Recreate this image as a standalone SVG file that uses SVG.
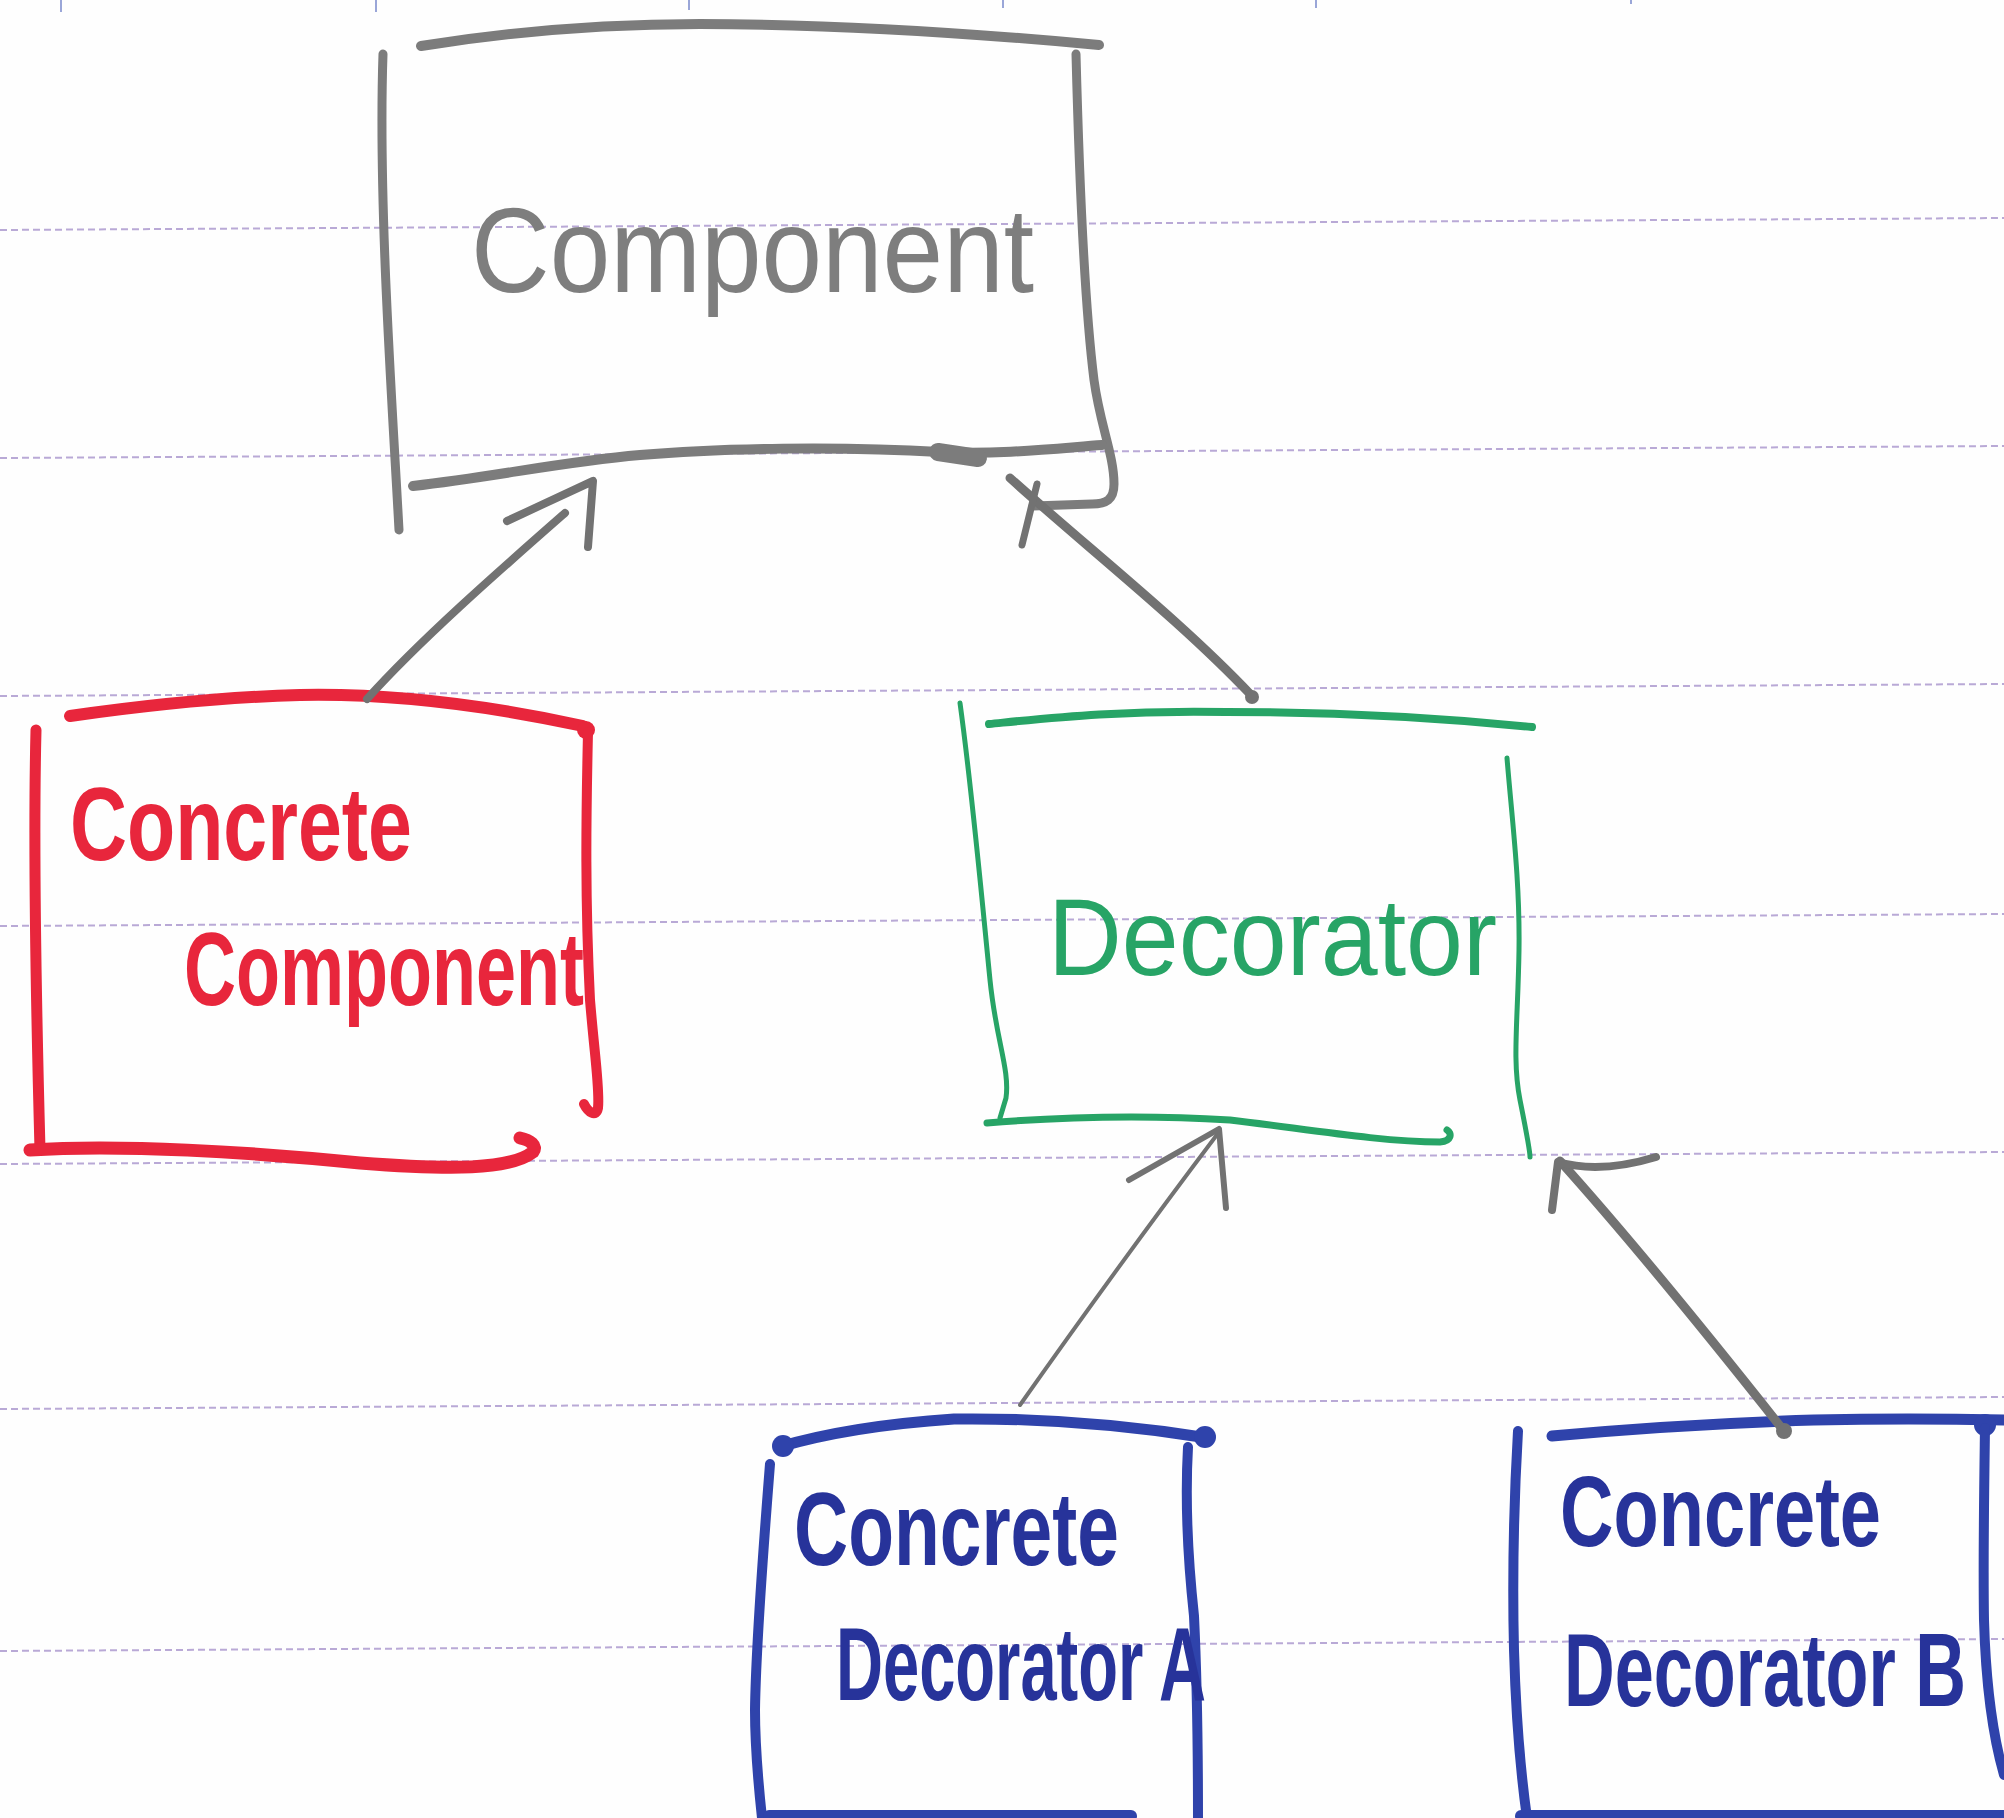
<svg xmlns="http://www.w3.org/2000/svg" width="2004" height="1818" viewBox="0 0 2004 1818">
  <defs>
    <style>
      .rule { stroke: #b9a9d6; stroke-width: 2; stroke-dasharray: 7 4; fill: none; }
      .tick { stroke: #9aa6d8; stroke-width: 2; }
      .ink { fill: none; stroke-linecap: round; stroke-linejoin: round; }
      .gray { stroke: #7c7c7c; }
      .red { stroke: #e8263c; }
      .green { stroke: #27a466; }
      .blue { stroke: #2f43ab; }
      .label { font-family: "Liberation Sans", Arial, sans-serif; }
      .gray-t { fill: #7e7e7e; font-size: 120px; }
      .red-t { fill: #e8263c; font-size: 104px; font-weight: bold; }
      .green-t { fill: #27a466; font-size: 110px; }
      .blue-t { fill: #27339a; font-size: 104px; font-weight: bold; }
      .conn { fill: none; stroke: #727272; stroke-linecap: round; stroke-linejoin: round; }
    </style>
  </defs>

  <!-- paper -->
  <rect x="0" y="0" width="2004" height="1818" fill="#fefefe"/>
  <g id="paper-rules">
    <line class="rule" x1="0" y1="230" x2="2004" y2="218"/>
    <line class="rule" x1="0" y1="458" x2="2004" y2="446"/>
    <line class="rule" x1="0" y1="696" x2="2004" y2="684"/>
    <line class="rule" x1="0" y1="926" x2="2004" y2="914"/>
    <line class="rule" x1="0" y1="1164" x2="2004" y2="1152"/>
    <line class="rule" x1="0" y1="1409" x2="2004" y2="1397"/>
    <line class="rule" x1="0" y1="1651" x2="2004" y2="1639"/>
    <line class="tick" x1="61" y1="0" x2="61" y2="12"/>
    <line class="tick" x1="376" y1="0" x2="376" y2="12"/>
    <line class="tick" x1="689" y1="0" x2="689" y2="10"/>
    <line class="tick" x1="1003" y1="0" x2="1003" y2="8"/>
    <line class="tick" x1="1316" y1="0" x2="1316" y2="8"/>
    <line class="tick" x1="1631" y1="0" x2="1631" y2="4"/>
  </g>

  <!-- Component -->
  <g id="component">
    <path class="ink gray" stroke-width="10" d="M 421,46 C 520,30 620,24 700,24 C 820,24 960,32 1099,45"/>
    <path class="ink gray" stroke-width="9" d="M 383,54 C 378,200 392,400 399,530"/>
    <path class="ink gray" stroke-width="9" d="M 1076,54 C 1079,170 1084,300 1094,380 C 1100,425 1114,455 1114,484 C 1114,500 1106,504 1092,504 L 1033,506"/>
    <path class="ink gray" stroke-width="10" d="M 413,486 C 500,476 560,462 640,455 C 720,448 840,446 940,452 C 1000,455 1060,448 1102,445"/>
    <path class="ink gray" stroke-width="18" d="M 938,452 L 978,458"/>
    <text class="label gray-t" x="471" y="292" textLength="563" lengthAdjust="spacingAndGlyphs">Component</text>
  </g>

  <!-- ConcreteComponent -->
  <g id="concrete-component">
    <path class="ink red" stroke-width="12" d="M 70,716 C 140,706 220,697 300,695 C 400,693 500,708 583,726"/>
    <circle cx="586" cy="730" r="9" fill="#e8263c"/>
    <path class="ink red" stroke-width="11" d="M 36,730 C 33,850 36,1000 40,1150"/>
    <path class="ink red" stroke-width="10" d="M 588,732 C 586,820 585,900 590,1000 C 595,1060 600,1090 598,1108 C 596,1118 588,1112 584,1104"/>
    <path class="ink red" stroke-width="13" d="M 30,1150 C 120,1144 250,1152 360,1163 C 450,1170 510,1170 533,1152 C 538,1146 530,1140 520,1138"/>
    <text class="label red-t" x="70" y="860" textLength="342" lengthAdjust="spacingAndGlyphs">Concrete</text>
    <text class="label red-t" x="184" y="1005" textLength="400" lengthAdjust="spacingAndGlyphs">Component</text>
  </g>

  <!-- Decorator -->
  <g id="decorator">
    <path class="ink green" stroke-width="8" d="M 989,724 C 1050,718 1120,710 1226,712 C 1330,712 1420,716 1532,727"/>
    <path class="ink green" stroke-width="5" d="M 960,703 C 972,790 982,900 990,980 C 996,1040 1010,1070 1006,1098 L 1000,1118"/>
    <path class="ink green" stroke-width="5" d="M 1507,758 C 1512,820 1520,880 1519,950 C 1518,1020 1512,1060 1520,1100 C 1526,1130 1530,1150 1530,1157"/>
    <path class="ink green" stroke-width="7" d="M 987,1123 C 1060,1117 1150,1115 1230,1120 C 1300,1128 1380,1142 1440,1142 C 1452,1141 1452,1133 1447,1130"/>
    <text class="label green-t" x="1048" y="975" textLength="449" lengthAdjust="spacingAndGlyphs">Decorator</text>
  </g>

  <!-- ConcreteDecoratorA (runs off the bottom of the sheet) -->
  <g id="concrete-decorator-a">
    <path class="ink blue" stroke-width="11" d="M 779,1447 C 820,1435 880,1424 954,1419 C 1030,1418 1120,1424 1208,1438"/>
    <circle cx="783" cy="1446" r="11" fill="#2f43ab"/>
    <circle cx="1205" cy="1437" r="11" fill="#2f43ab"/>
    <path class="ink blue" stroke-width="10" d="M 770,1464 C 764,1540 756,1640 755,1710 C 755,1750 759,1790 762,1818"/>
    <path class="ink blue" stroke-width="10" d="M 1188,1447 C 1185,1500 1188,1560 1194,1616 C 1198,1700 1198,1770 1198,1818"/>
    <path class="ink blue" stroke-width="12" d="M 769,1816 L 1131,1816"/>
    <text class="label blue-t" x="794" y="1565" textLength="325" lengthAdjust="spacingAndGlyphs">Concrete</text>
    <text class="label blue-t" x="836" y="1700" textLength="370" lengthAdjust="spacingAndGlyphs">Decorator A</text>
  </g>

  <!-- ConcreteDecoratorB (runs off the right and bottom of the sheet) -->
  <g id="concrete-decorator-b">
    <path class="ink blue" stroke-width="11" d="M 1552,1436 C 1640,1428 1720,1423 1814,1420 C 1900,1418 1960,1419 2004,1420"/>
    <circle cx="1985" cy="1425" r="11" fill="#2f43ab"/>
    <path class="ink blue" stroke-width="10" d="M 1518,1431 C 1514,1500 1512,1569 1514,1650 C 1516,1720 1521,1775 1527,1818"/>
    <path class="ink blue" stroke-width="10" d="M 1985,1428 C 1984,1500 1983,1560 1984,1620 C 1986,1690 1994,1740 2004,1775"/>
    <path class="ink blue" stroke-width="12" d="M 1521,1816 L 2004,1816"/>
    <text class="label blue-t" x="1560" y="1546" style="font-size:100px" textLength="321" lengthAdjust="spacingAndGlyphs">Concrete</text>
    <!-- smaller type stretched upward about its baseline, so the line fits before the sheet edge -->
    <text class="label blue-t" x="1564" y="1706" style="font-size:76px" transform="matrix(1,0,0,1.368,0,-627.8)" textLength="402" lengthAdjust="spacingAndGlyphs">Decorator B</text>
  </g>

  <!-- inheritance arrows, drawn by hand -->
  <g id="connectors">
    <path class="conn" stroke-width="8" d="M 367,699 C 420,640 500,570 565,513"/>
    <path class="conn" stroke-width="8" d="M 507,521 L 593,481 L 588,547"/>

    <path class="conn" stroke-width="9" d="M 1252,696 C 1180,620 1090,550 1010,478"/>
    <path class="conn" stroke-width="7" d="M 1037,484 L 1022,545"/>
    <circle cx="1252" cy="697" r="7" fill="#727272"/>

    <path class="conn" stroke-width="4" stroke="#5e5e5e" d="M 1020,1405 C 1080,1320 1160,1210 1219,1132"/>
    <path class="conn" stroke-width="6" d="M 1129,1180 L 1219,1129 L 1226,1208"/>

    <path class="conn" stroke-width="9" d="M 1784,1431 C 1720,1350 1640,1250 1560,1161"/>
    <path class="conn" stroke-width="8" d="M 1552,1210 L 1558,1162 Q 1600,1174 1656,1157"/>
    <circle cx="1784" cy="1431" r="8" fill="#727272"/>
  </g>
</svg>
